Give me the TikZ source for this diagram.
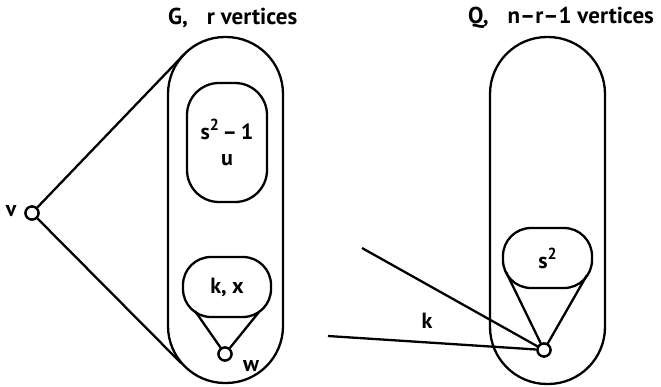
\documentclass[tikz,border=0pt]{standalone}
\usepackage{fontspec}
\setmainfont{PT Sans}

\begin{document}
\begin{tikzpicture}[
  x=1pt, y=-1pt,
  line width=2.3pt,
  font=\fontsize{22}{26}\selectfont\bfseries,
  part/.style={draw, minimum width=115pt, rounded corners=57pt, inner sep=0pt},
  blob/.style={draw, rounded corners=28pt, inner sep=0pt, align=center},
  vtx/.style={draw, circle, fill=white, minimum size=13pt, inner sep=0pt},
  lbl/.style={inner sep=0pt},
  title/.style={lbl, anchor=west, font=\fontsize{23}{26}\selectfont\bfseries},
]
\useasboundingbox (0,0) rectangle (661,386);

\node[part, minimum height=346pt] (G) at (225.5,210) {};
\node[part, minimum height=347pt] (Q) at (547.5,210.5) {};

\node[title] (Gname) at (167,18) {G,\hspace{19pt}r vertices};
\node[title] (Qname) at (467,18) {Q,\hspace{19pt}n–r–1 vertices};

\node[blob, minimum width=80pt, minimum height=119pt, rounded corners=32pt] (su) at (227,142.5)
  {s\raisebox{9pt}{\fontsize{16}{16}\selectfont 2}\,–\,1\\[0pt]u};
\node[blob, minimum width=88pt, minimum height=60pt] (kx) at (227,287) {k, x};
\node[blob, minimum width=89pt, minimum height=60pt] (sq) at (547.5,258)
  {s\raisebox{9pt}{\fontsize{16}{16}\selectfont 2}};

\coordinate (gtop) at (184,54.5);
\coordinate (gbot) at (181,363);
\coordinate (kxl) at (195,311);
\coordinate (kxr) at (259,312);
\coordinate (sql) at (506,272);
\coordinate (sqr) at (587,275);
\coordinate (e1) at (362,248);
\coordinate (e2) at (328,336);

\node[vtx] (v) at (32,213) {};
\node[vtx] (w) at (225,354) {};
\node[vtx] (z) at (544,350) {};

\draw (v) -- (gtop);
\draw (v) -- (gbot);
\draw (w) -- (kxl);
\draw (w) -- (kxr);
\draw (z) -- (sql);
\draw (z) -- (sqr);
\draw (z) -- (e1);
\draw (z) -- (e2);

\node[vtx] at (v) {};
\node[vtx] at (w) {};
\node[vtx] at (z) {};

\node[lbl] (vname) at (11,211) {v};
\node[lbl] (wname) at (251,366) {w};
\node[lbl] (kname) at (427,321) {k};

\end{tikzpicture}
\end{document}
